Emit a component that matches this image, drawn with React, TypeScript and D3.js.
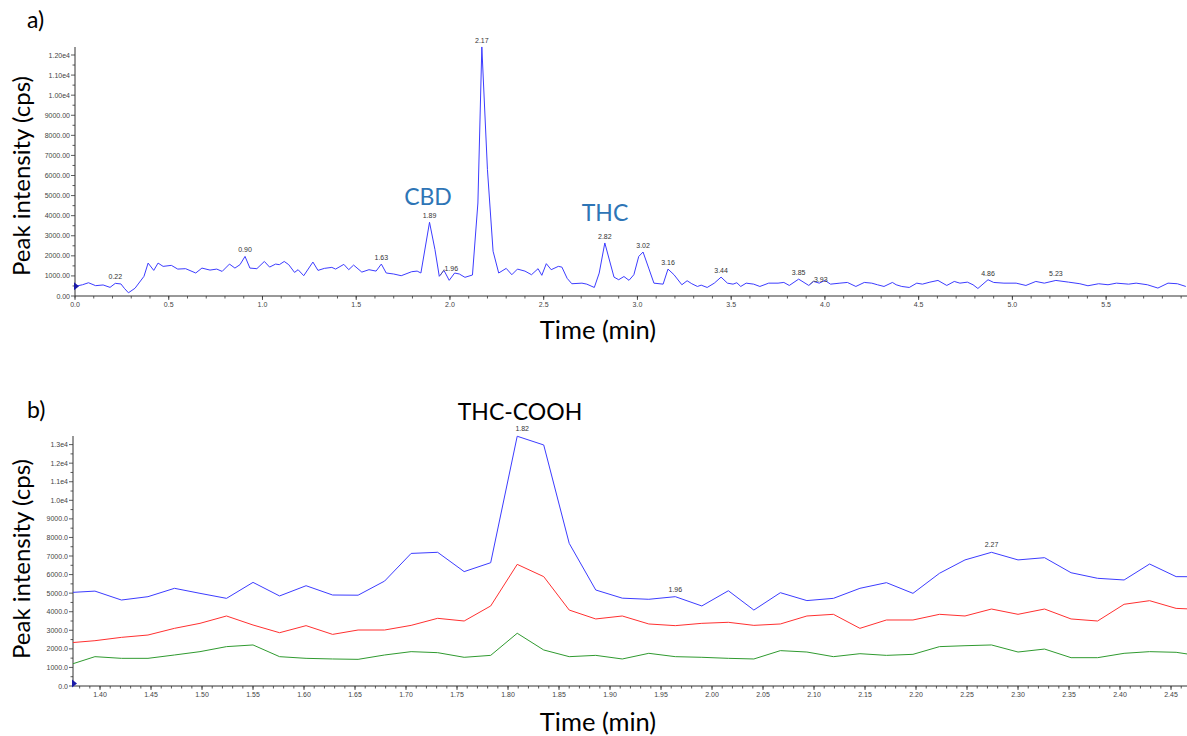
import React from "react";
import * as d3 from "d3";

// ---------- Panel a data (time in min, intensity in cps) ----------
const timeA = [
  0.0, 0.04, 0.072, 0.11, 0.15, 0.187, 0.215, 0.245, 0.263, 0.285, 0.32, 0.368, 0.39, 0.42, 0.443, 0.47,
  0.514, 0.548, 0.59, 0.644, 0.677, 0.72, 0.756, 0.785, 0.824, 0.853, 0.88, 0.907, 0.933, 0.97, 1.01,
  1.038, 1.07, 1.09, 1.116, 1.14, 1.171, 1.19, 1.22, 1.269, 1.296, 1.33, 1.37, 1.39, 1.434, 1.46, 1.486,
  1.53, 1.568, 1.606, 1.634, 1.66, 1.7, 1.74, 1.796, 1.825, 1.845, 1.891, 1.92, 1.943, 1.968, 1.996,
  2.025, 2.05, 2.08, 2.12, 2.149, 2.17, 2.2, 2.23, 2.26, 2.3, 2.33, 2.36, 2.4, 2.435, 2.47, 2.49, 2.514,
  2.54, 2.578, 2.597, 2.625, 2.65, 2.704, 2.73, 2.77, 2.796, 2.826, 2.875, 2.9, 2.928, 2.955, 2.981,
  3.007, 3.03, 3.06, 3.088, 3.137, 3.163, 3.195, 3.237, 3.265, 3.29, 3.32, 3.34, 3.372, 3.41, 3.446,
  3.48, 3.51, 3.53, 3.551, 3.58, 3.62, 3.653, 3.7, 3.75, 3.781, 3.81, 3.86, 3.914, 3.94, 3.97, 4.0,
  4.03, 4.08, 4.12, 4.165, 4.21, 4.25, 4.28, 4.315, 4.36, 4.38, 4.41, 4.45, 4.49, 4.52, 4.56, 4.603,
  4.65, 4.69, 4.72, 4.76, 4.79, 4.816, 4.87, 4.9, 4.955, 5.02, 5.072, 5.125, 5.17, 5.232, 5.3, 5.36,
  5.403, 5.46, 5.51, 5.555, 5.62, 5.66, 5.72, 5.776, 5.83, 5.88, 5.925,
];
const intensityA = [
  480, 560, 660, 515, 550, 430, 630, 600, 385, 160, 385, 980, 1640, 1275, 1640, 1475,
  1525, 1340, 1360, 1145, 1390, 1290, 1340, 1225, 1590, 1390, 1560, 1970, 1390, 1360, 1720,
  1440, 1590, 1560, 1720, 1560, 1175, 1310, 1010, 1690, 1275, 1375, 1425, 1340, 1575, 1310, 1540,
  1190, 1310, 1240, 1590, 1145, 1095, 1010, 1210, 1240, 1145, 3670, 2310, 980, 1275, 780,
  1145, 1095, 930, 1045, 4630, 12400, 6290, 2230, 1145, 1375, 1060, 1340, 1240, 1060, 1360, 1030, 1610,
  1310, 1475, 1440, 880, 610, 640, 590, 425, 1140, 2640, 940, 810, 970, 780, 1060,
  1970, 2190, 1390, 640, 590, 1340, 1060, 560, 760, 610, 475, 540, 425, 640, 940,
  640, 590, 660, 475, 640, 590, 475, 640, 640, 675, 525, 840, 525, 725, 640, 775,
  590, 640, 675, 475, 675, 640, 560, 475, 675, 560, 475, 425, 640, 590, 690, 775,
  525, 725, 640, 690, 560, 375, 810, 675, 640, 640, 525, 725, 640, 775, 690, 610,
  510, 610, 560, 640, 590, 640, 560, 395, 640, 610, 475,
];
const peakLabelsA = ["0.22", "0.90", "1.63", "1.89", "1.96", "2.17", "2.82", "3.02", "3.16", "3.44", "3.85", "3.93", "4.86", "5.23"];
const peakTimesA = [0.215, 0.907, 1.634, 1.891, 1.943, 2.17, 2.826, 3.03, 3.163, 3.446, 3.86, 3.914, 4.87, 5.232];

const xTickLabelsA = ["0.0", "0.5", "1.0", "1.5", "2.0", "2.5", "3.0", "3.5", "4.0", "4.5", "5.0", "5.5"];
const xTickValuesA = [0, 0.5, 1, 1.5, 2, 2.5, 3, 3.5, 4, 4.5, 5, 5.5];
const yTickLabelsA = ["0.00", "1000.00", "2000.00", "3000.00", "4000.00", "5000.00", "6000.00", "7000.00", "8000.00", "9000.00", "1.00e4", "1.10e4", "1.20e4"];
const yTickValuesA = [0, 1000, 2000, 3000, 4000, 5000, 6000, 7000, 8000, 9000, 10000, 11000, 12000];

// ---------- Panel b data ----------
const timeB = [
  1.369, 1.395, 1.421, 1.447, 1.473, 1.498, 1.524, 1.55, 1.576, 1.602, 1.628, 1.653, 1.679, 1.705, 1.731,
  1.757, 1.783, 1.809, 1.835, 1.86, 1.886, 1.912, 1.938, 1.964, 1.99, 2.016, 2.041, 2.067, 2.093, 2.119,
  2.145, 2.171, 2.197, 2.223, 2.248, 2.274, 2.3, 2.326, 2.352, 2.378, 2.404, 2.429, 2.455, 2.481,
];
const blueB = [
  5030, 5110, 4630, 4810, 5260, 4990, 4720, 5580, 4850, 5400, 4900, 4890, 5650, 7140, 7200,
  6160, 6640, 13450, 12980, 7680, 5170, 4730, 4670, 4810, 4310, 5130, 4090, 5025, 4600, 4720,
  5260, 5565, 4990, 6070, 6790, 7200, 6790, 6910, 6100, 5800, 5710, 6570, 5890, 5880,
];
const redB = [
  2320, 2440, 2620, 2745, 3105, 3375, 3770, 3285, 2870, 3250, 2780, 3015, 3015, 3265, 3645,
  3500, 4310, 6550, 5890, 4090, 3610, 3770, 3340, 3250, 3375, 3430, 3265, 3340, 3770, 3860,
  3105, 3555, 3555, 3860, 3770, 4145, 3860, 4145, 3610, 3500, 4400, 4595, 4180, 4120,
];
const greenB = [
  1120, 1580, 1490, 1490, 1670, 1850, 2120, 2210, 1580, 1490, 1455, 1435, 1670, 1850, 1795,
  1545, 1650, 2840, 1940, 1580, 1650, 1455, 1760, 1580, 1545, 1490, 1455, 1905, 1830, 1580,
  1740, 1650, 1705, 2120, 2170, 2210, 1830, 1990, 1525, 1525, 1760, 1850, 1815, 1600,
];
const peakLabelsB = ["1.82", "1.96", "2.27"];
const peakTimesB = [1.809, 1.964, 2.274];

const xTickLabelsB = ["1.40", "1.45", "1.50", "1.55", "1.60", "1.65", "1.70", "1.75", "1.80", "1.85", "1.90", "1.95", "2.00", "2.05", "2.10", "2.15", "2.20", "2.25", "2.30", "2.35", "2.40", "2.45"];
const xTickValuesB = [1.4, 1.45, 1.5, 1.55, 1.6, 1.65, 1.7, 1.75, 1.8, 1.85, 1.9, 1.95, 2.0, 2.05, 2.1, 2.15, 2.2, 2.25, 2.3, 2.35, 2.4, 2.45];
const yTickLabelsB = ["0.0", "1000.0", "2000.0", "3000.0", "4000.0", "5000.0", "6000.0", "7000.0", "8000.0", "9000.0", "1.0e4", "1.1e4", "1.2e4", "1.3e4"];
const yTickValuesB = [0, 1000, 2000, 3000, 4000, 5000, 6000, 7000, 8000, 9000, 10000, 11000, 12000, 13000];

const W = 1187;
const H = 736;
const TICK_FONT = "'Liberation Sans', Arial, sans-serif";
const TITLE_FONT = "Lato, 'Open Sans', sans-serif";
const AXIS_COLOR = "#333";

type Pt = [number, number];

function Panel(props: {
  x: d3.ScaleLinear<number, number>;
  y: d3.ScaleLinear<number, number>;
  axisTop: number;
  series: { t: number[]; v: number[]; color: string }[];
  xMajor: number[];
  xLabels: string[];
  xMinorStep: number;
  yMajor: number[];
  yLabels: string[];
  peaks: { label: string; t: number; dx?: number; dy?: number; leader?: boolean }[];
  peakSeries: { t: number[]; v: number[] };
  clipId: string;
  markerValue: number;
}) {
  const { x, y, axisTop, series, xMajor, xLabels, xMinorStep, yMajor, yLabels, peaks, peakSeries, clipId, markerValue } = props;
  const [x0, x1] = x.range();
  const y0 = y(0);
  const [d0, d1] = x.domain();
  const line = d3
    .line<Pt>()
    .x((d) => x(d[0]))
    .y((d) => y(d[1]));
  const minors: number[] = [];
  const start = Math.ceil(d0 / xMinorStep - 1e-6) * xMinorStep;
  for (let v = start; v <= d1 + 1e-9; v += xMinorStep) minors.push(v);
  const yMinors = yMajor.map((v) => v + 500).filter((v) => y(v) >= axisTop);
  return (
    <g>
      <defs>
        <clipPath id={clipId}>
          <rect x={x0} y={axisTop - 10} width={x1 - x0 + 5} height={y0 - axisTop + 10} />
        </clipPath>
      </defs>
      <line x1={x0} x2={W} y1={y0} y2={y0} stroke={AXIS_COLOR} strokeWidth={1} />
      <line x1={x0} x2={x0} y1={axisTop} y2={y0} stroke={AXIS_COLOR} strokeWidth={1} />
      {minors.map((v, i) => (
        <line key={"xm" + i} x1={x(v)} x2={x(v)} y1={y0} y2={y0 + 2.5} stroke={AXIS_COLOR} strokeWidth={0.8} />
      ))}
      {xMajor.map((v, i) => (
        <g key={"xM" + i}>
          <line x1={x(v)} x2={x(v)} y1={y0} y2={y0 + 4} stroke={AXIS_COLOR} strokeWidth={0.8} />
          <text x={x(v)} y={y0 + 11} fontSize={7} fontFamily={TICK_FONT} fill="#444" textAnchor="middle">
            {xLabels[i]}
          </text>
        </g>
      ))}
      {yMinors.map((v, i) => (
        <line key={"ym" + i} x1={x0 - 2.5} x2={x0} y1={y(v)} y2={y(v)} stroke={AXIS_COLOR} strokeWidth={0.8} />
      ))}
      {yMajor.map((v, i) => (
        <g key={"yM" + i}>
          <line x1={x0 - 4} x2={x0} y1={y(v)} y2={y(v)} stroke={AXIS_COLOR} strokeWidth={0.8} />
          <text x={x0 - 5} y={y(v) + 2.5} fontSize={7} fontFamily={TICK_FONT} fill="#444" textAnchor="end">
            {yLabels[i]}
          </text>
        </g>
      ))}
      <g clipPath={`url(#${clipId})`}>
        {series.map((s, i) => (
          <path
            key={"s" + i}
            d={line(s.t.map((t, j) => [t, s.v[j]] as Pt)) || ""}
            fill="none"
            stroke={s.color}
            strokeWidth={1}
            strokeLinejoin="round"
          />
        ))}
      </g>
      <path
        d={`M${x0 - 1},${y(markerValue) - 4} L${x0 + 4},${y(markerValue)} L${x0 - 1},${y(markerValue) + 4} Z`}
        fill="#1a1aa8"
      />
      {peaks.map((p, i) => {
        const idx = d3.minIndex(peakSeries.t, (t) => Math.abs(t - p.t));
        const px = x(peakSeries.t[idx]);
        const py = y(peakSeries.v[idx]);
        const dx = p.dx ?? 0;
        const dy = p.dy ?? -4;
        return (
          <g key={"p" + i}>
            {p.leader && (
              <line x1={px + 1} y1={py - 1} x2={px + dx - 7} y2={py + dy - 2} stroke="#555" strokeWidth={0.6} />
            )}
            <text x={px + dx} y={py + dy} fontSize={7} fontFamily={TICK_FONT} fill="#333" textAnchor="middle">
              {p.label}
            </text>
          </g>
        );
      })}
    </g>
  );
}

export default function App() {
  const xA = d3.scaleLinear().domain([0, 5.91]).range([75, 1183]);
  const yA = d3.scaleLinear().domain([0, 12000]).range([296, 55]);
  const xB = d3.scaleLinear().domain([1.3735, 2.4637]).range([73, 1185]);
  const yB = d3.scaleLinear().domain([0, 13000]).range([686, 444.6]);

  const peaksA = peakLabelsA.map((label, i) => {
    if (label === "1.96") return { label, t: peakTimesA[i], dx: 12, dy: -5, leader: true };
    if (label === "3.93") return { label, t: peakTimesA[i], dx: 12, dy: -3, leader: true };
    return { label, t: peakTimesA[i] };
  });
  const peaksB = peakLabelsB.map((label, i) => ({ label, t: peakTimesB[i], dx: label === "1.82" ? 5 : 0, dy: -5 }));

  return (
    <svg
      width={W}
      height={H}
      viewBox={`0 0 ${W} ${H}`}
      style={{ position: "absolute", left: 0, top: 0, background: "#fff" }}
    >
      <rect width={W} height={H} fill="#fff" />
      {/* Panel a */}
      <text x={27} y={28} fontSize={23} fontFamily={TITLE_FONT} fill="#000">a)</text>
      <Panel
        x={xA}
        y={yA}
        axisTop={47}
        series={[{ t: timeA, v: intensityA, color: "#3c3cff" }]}
        xMajor={xTickValuesA}
        xLabels={xTickLabelsA}
        xMinorStep={0.1}
        yMajor={yTickValuesA}
        yLabels={yTickLabelsA}
        peaks={peaksA}
        peakSeries={{ t: timeA, v: intensityA }}
        clipId="clipA"
        markerValue={480}
      />
      <text x={598} y={339} fontSize={25.5} fontFamily={TITLE_FONT} fill="#000" textAnchor="middle">Time (min)</text>
      <text
        transform={`translate(30,176) rotate(-90)`}
        fontSize={24}
        fontFamily={TITLE_FONT}
        fill="#000"
        textAnchor="middle"
      >
        Peak intensity (cps)
      </text>
      <text x={428} y={205} fontSize={23} fontFamily={TITLE_FONT} fill="#2E75B6" textAnchor="middle">CBD</text>
      <text x={605} y={221} fontSize={23} fontFamily={TITLE_FONT} fill="#2E75B6" textAnchor="middle">THC</text>

      {/* Panel b */}
      <text x={27} y={418} fontSize={23} fontFamily={TITLE_FONT} fill="#000">b)</text>
      <text x={520} y={420} fontSize={23} fontFamily={TITLE_FONT} fill="#000" textAnchor="middle">THC-COOH</text>
      <Panel
        x={xB}
        y={yB}
        axisTop={436}
        series={[
          { t: timeB, v: greenB, color: "#2f9a2f" },
          { t: timeB, v: redB, color: "#ff3030" },
          { t: timeB, v: blueB, color: "#3c3cff" },
        ]}
        xMajor={xTickValuesB}
        xLabels={xTickLabelsB}
        xMinorStep={0.01}
        yMajor={yTickValuesB}
        yLabels={yTickLabelsB}
        peaks={peaksB}
        peakSeries={{ t: timeB, v: blueB }}
        clipId="clipB"
        markerValue={130}
      />
      <text x={598} y={731} fontSize={25.5} fontFamily={TITLE_FONT} fill="#000" textAnchor="middle">Time (min)</text>
      <text
        transform={`translate(30,559) rotate(-90)`}
        fontSize={24}
        fontFamily={TITLE_FONT}
        fill="#000"
        textAnchor="middle"
      >
        Peak intensity (cps)
      </text>
    </svg>
  );
}
